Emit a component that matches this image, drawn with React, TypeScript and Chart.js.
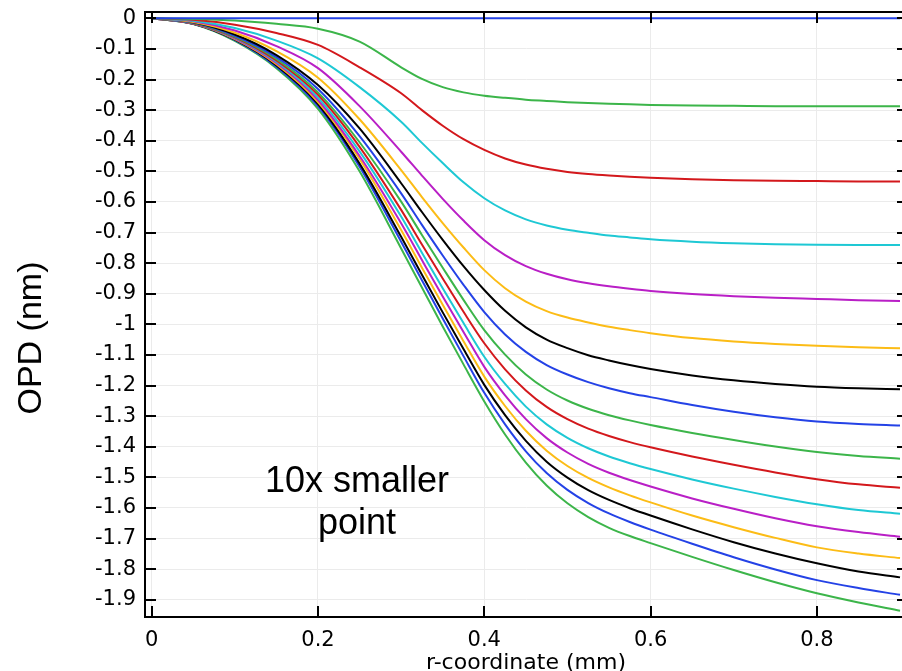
import React, { useEffect, useRef } from 'react';
import { Chart, registerables } from 'chart.js';

Chart.register(...registerables);

// r-coordinate samples (mm)
const R = [0, 0.05, 0.1, 0.15, 0.2, 0.25, 0.3, 0.325, 0.35, 0.375, 0.4, 0.425, 0.45, 0.475, 0.5, 0.525, 0.55, 0.575, 0.6, 0.65, 0.7, 0.75, 0.8, 0.85, 0.9];

// OPD (nm) per curve
const OPD_00 = [0, 0, 0, 0, 0, 0, 0, 0, 0, 0, 0, 0, 0, 0, 0, 0, 0, 0, 0, 0, 0, 0, 0, 0, 0];
const OPD_01 = [0, -0.002, -0.007, -0.018, -0.034, -0.076, -0.16, -0.198, -0.225, -0.242, -0.253, -0.26, -0.266, -0.27, -0.274, -0.277, -0.279, -0.281, -0.283, -0.285, -0.286, -0.287, -0.287, -0.287, -0.287];
const OPD_02 = [0, -0.005, -0.021, -0.048, -0.087, -0.16, -0.245, -0.3, -0.351, -0.395, -0.43, -0.458, -0.478, -0.492, -0.502, -0.509, -0.514, -0.518, -0.521, -0.526, -0.529, -0.531, -0.532, -0.533, -0.533];
const OPD_03 = [0, -0.008, -0.032, -0.073, -0.131, -0.225, -0.338, -0.407, -0.473, -0.536, -0.588, -0.628, -0.657, -0.677, -0.691, -0.701, -0.71, -0.716, -0.722, -0.73, -0.735, -0.738, -0.74, -0.741, -0.741];
const OPD_04 = [0, -0.01, -0.04, -0.091, -0.163, -0.287, -0.436, -0.514, -0.59, -0.661, -0.725, -0.774, -0.81, -0.835, -0.853, -0.866, -0.876, -0.884, -0.891, -0.901, -0.908, -0.913, -0.917, -0.921, -0.924];
const OPD_05 = [0, -0.012, -0.047, -0.107, -0.194, -0.33, -0.496, -0.584, -0.669, -0.749, -0.823, -0.882, -0.926, -0.957, -0.978, -0.994, -1.008, -1.019, -1.029, -1.045, -1.056, -1.064, -1.07, -1.075, -1.078];
const OPD_06 = [0, -0.013, -0.053, -0.12, -0.218, -0.36, -0.539, -0.633, -0.724, -0.81, -0.888, -0.956, -1.01, -1.05, -1.078, -1.101, -1.118, -1.133, -1.146, -1.167, -1.183, -1.195, -1.204, -1.209, -1.212];
const OPD_07 = [0, -0.014, -0.057, -0.127, -0.231, -0.385, -0.572, -0.675, -0.775, -0.871, -0.96, -1.033, -1.09, -1.133, -1.164, -1.189, -1.209, -1.225, -1.238, -1.264, -1.286, -1.304, -1.318, -1.326, -1.331];
const OPD_08 = [0, -0.015, -0.06, -0.133, -0.242, -0.405, -0.599, -0.708, -0.815, -0.92, -1.019, -1.099, -1.164, -1.213, -1.249, -1.276, -1.297, -1.314, -1.329, -1.355, -1.378, -1.399, -1.417, -1.43, -1.439];
const OPD_09 = [0, -0.016, -0.062, -0.138, -0.25, -0.42, -0.626, -0.739, -0.85, -0.959, -1.062, -1.147, -1.216, -1.27, -1.31, -1.341, -1.365, -1.385, -1.402, -1.432, -1.459, -1.484, -1.506, -1.523, -1.534];
const OPD_10 = [0, -0.016, -0.064, -0.142, -0.259, -0.435, -0.648, -0.766, -0.882, -0.996, -1.106, -1.195, -1.269, -1.327, -1.371, -1.405, -1.432, -1.454, -1.473, -1.507, -1.537, -1.564, -1.588, -1.607, -1.619];
const OPD_11 = [0, -0.017, -0.066, -0.146, -0.267, -0.45, -0.67, -0.79, -0.909, -1.025, -1.139, -1.232, -1.31, -1.372, -1.419, -1.456, -1.485, -1.509, -1.53, -1.569, -1.603, -1.634, -1.66, -1.679, -1.694];
const OPD_12 = [0, -0.017, -0.068, -0.15, -0.274, -0.46, -0.692, -0.815, -0.936, -1.055, -1.171, -1.267, -1.348, -1.413, -1.463, -1.502, -1.533, -1.559, -1.582, -1.625, -1.663, -1.698, -1.729, -1.749, -1.764];
const OPD_13 = [0, -0.018, -0.07, -0.154, -0.28, -0.475, -0.714, -0.838, -0.961, -1.081, -1.198, -1.297, -1.381, -1.449, -1.501, -1.542, -1.574, -1.601, -1.625, -1.67, -1.712, -1.749, -1.781, -1.808, -1.827];
const OPD_14 = [0, -0.018, -0.071, -0.158, -0.287, -0.485, -0.73, -0.856, -0.981, -1.104, -1.224, -1.327, -1.415, -1.486, -1.541, -1.584, -1.618, -1.646, -1.671, -1.717, -1.761, -1.801, -1.836, -1.862, -1.884];
const OPD_15 = [0, -0.019, -0.074, -0.163, -0.296, -0.5, -0.752, -0.88, -1.007, -1.131, -1.252, -1.36, -1.452, -1.527, -1.585, -1.63, -1.665, -1.692, -1.715, -1.76, -1.803, -1.843, -1.879, -1.909, -1.936];

const CURVES = [OPD_00, OPD_01, OPD_02, OPD_03, OPD_04, OPD_05, OPD_06, OPD_07, OPD_08, OPD_09, OPD_10, OPD_11, OPD_12, OPD_13, OPD_14, OPD_15];

const COLORS = ['#2442e6', '#3cb54a', '#d3181c', '#1ec8d4', '#b91fc6', '#fcbc16', '#000000'];

const X_TICKS = [0, 0.2, 0.4, 0.6, 0.8];
const Y_TICKS = [0, -0.1, -0.2, -0.3, -0.4, -0.5, -0.6, -0.7, -0.8, -0.9, -1, -1.1, -1.2, -1.3, -1.4, -1.5, -1.6, -1.7, -1.8, -1.9];

const X_TITLE = 'r-coordinate (mm)';
const Y_TITLE = 'OPD (nm)';
const NOTE_LINES = ['10x smaller', 'point'];

const TICK = 11;

const decor = {
  id: 'decor',
  afterDraw(chart: any) {
    const { ctx, chartArea: a, scales } = chart;
    const xs = scales.x;
    const ys = scales.y;
    ctx.save();
    ctx.strokeStyle = '#000';
    ctx.lineWidth = 2;
    ctx.beginPath();
    for (const v of X_TICKS) {
      const px = Math.round(xs.getPixelForValue(v));
      ctx.moveTo(px, a.bottom);
      ctx.lineTo(px, a.bottom - TICK);
      ctx.moveTo(px, a.top);
      ctx.lineTo(px, a.top + TICK);
    }
    for (const v of Y_TICKS) {
      const py = Math.round(ys.getPixelForValue(v));
      ctx.moveTo(a.left, py);
      ctx.lineTo(a.left + TICK, py);
      ctx.moveTo(a.right, py);
      ctx.lineTo(a.right - TICK, py);
    }
    ctx.stroke();
    ctx.strokeRect(a.left, a.top, a.right - a.left, a.bottom - a.top);

    ctx.fillStyle = '#000';
    ctx.font = '22px "DejaVu Sans", sans-serif';
    ctx.textAlign = 'center';
    ctx.textBaseline = 'alphabetic';
    ctx.fillText(X_TITLE, 526, 669);

    ctx.save();
    ctx.translate(32, 338);
    ctx.rotate(-Math.PI / 2);
    ctx.font = '34px "Liberation Sans", Arial, sans-serif';
    ctx.textAlign = 'center';
    ctx.textBaseline = 'middle';
    ctx.fillText(Y_TITLE, 0, 0);
    ctx.restore();

    ctx.font = '36px "Liberation Sans", Arial, sans-serif';
    ctx.textAlign = 'center';
    ctx.textBaseline = 'middle';
    ctx.fillText(NOTE_LINES[0], 357, 482);
    ctx.fillText(NOTE_LINES[1], 357, 524);
    ctx.restore();
  },
};

const fmt = (v: number) => {
  const r = Math.round(v * 10) / 10;
  return r === 0 ? '0' : String(r);
};

export default function App() {
  const ref = useRef<HTMLCanvasElement | null>(null);

  useEffect(() => {
    if (!ref.current) return;
    const datasets = CURVES.map((ys, i) => ({
      label: 'c' + i,
      data: R.map((x, j) => ({ x, y: ys[j] })),
      borderColor: COLORS[i % COLORS.length],
      backgroundColor: COLORS[i % COLORS.length],
      borderWidth: 2,
      pointRadius: 0,
      fill: false,
      cubicInterpolationMode: 'monotone' as const,
    }));
    const chart = new Chart(ref.current, {
      type: 'line',
      data: { datasets },
      options: {
        animation: false,
        responsive: false,
        events: [],
        layout: { padding: { top: 12, right: 2, left: 0, bottom: 0 } },
        plugins: { legend: { display: false }, tooltip: { enabled: false }, title: { display: false } },
        scales: {
          x: {
            type: 'linear',
            min: -0.00806,
            max: 0.9096,
            afterBuildTicks: (s: any) => { s.ticks = X_TICKS.map((value) => ({ value })); },
            afterFit: (s: any) => { s.height = 54; s.paddingLeft = 0; s.paddingRight = 0; },
            grid: { color: '#ebebeb', lineWidth: 1, drawTicks: false },
            border: { display: false },
            ticks: {
              padding: 11,
              color: '#000',
              font: { family: '"DejaVu Sans", sans-serif', size: 21 },
              callback: (v: any) => fmt(Number(v)),
              maxRotation: 0,
              autoSkip: false,
            },
          },
          y: {
            type: 'linear',
            min: -1.9565,
            max: 0.0206,
            afterBuildTicks: (s: any) => { s.ticks = Y_TICKS.map((value) => ({ value })); },
            afterFit: (s: any) => { s.width = 145; s.paddingTop = 0; s.paddingBottom = 0; },
            grid: { color: '#ebebeb', lineWidth: 1, drawTicks: false },
            border: { display: false },
            ticks: {
              padding: 9,
              color: '#000',
              font: { family: '"DejaVu Sans", sans-serif', size: 21 },
              callback: (v: any) => fmt(Number(v)),
              autoSkip: false,
            },
          },
        },
      },
      plugins: [decor],
    });
    return () => chart.destroy();
  }, []);

  return (
    <div style={{ position: 'absolute', left: 0, top: 0, width: 902, height: 671, overflow: 'hidden', background: '#fff' }}>
      <canvas ref={ref} width={910} height={671} style={{ width: 910, height: 671, display: 'block' }} />
    </div>
  );
}
